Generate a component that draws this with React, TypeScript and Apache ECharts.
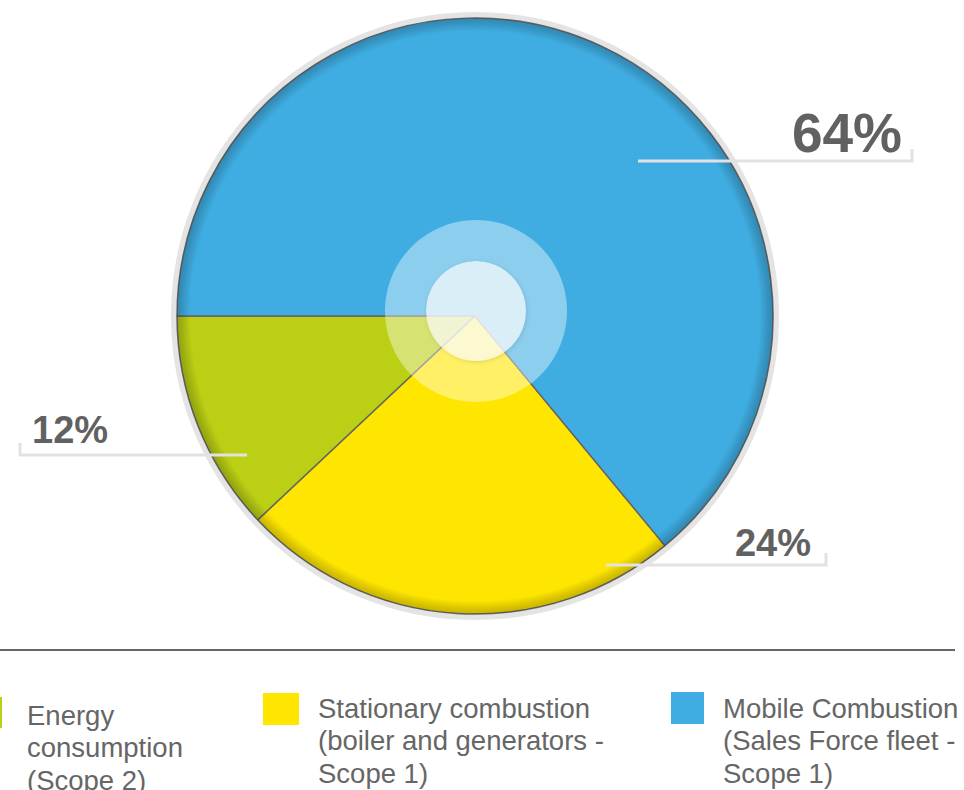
import React, { useEffect, useRef } from "react";
import * as echarts from "echarts";

// ---- data ----
const categories = [
  "Energy\nconsumption\n(Scope 2)",
  "Stationary combustion\n(boiler and generators -\nScope 1)",
  "Mobile Combustion\n(Sales Force fleet -\nScope 1)",
];
const shares = [12, 24, 64];
const colors = ["#BBCF14", "#FFE600", "#3FADE2"];

// ---- layout (positions only) ----
const CENTER: [number, number] = [475, 316];
const RADIUS = 298;
const FONT = "'Liberation Sans', Arial, Helvetica, sans-serif";

// label placement per slice: text anchor + guide line (start x, end x, y)
const LABEL_GUIDES = [
  { tx: 32, ty: 449, align: "left", fs: 38, x0: 247, x1: 20, y: 455 },
  { tx: 811, ty: 562, align: "right", fs: 38, x0: 606, x1: 826, y: 565 },
  { tx: 902, ty: 160, align: "right", fs: 55, x0: 638, x1: 912, y: 161 },
];

const LEGEND_POS = [
  { x: -32, y: 697, w: 34, h: 31, tx: 27, ty: 699 },
  { x: 263, y: 693, w: 36, h: 32, tx: 318, ty: 692 },
  { x: 671, y: 692, w: 33, h: 32, tx: 723, ty: 692 },
];

export default function App() {
  const ref = useRef<HTMLDivElement>(null);

  useEffect(() => {
    if (!ref.current) return;
    const chart = echarts.init(ref.current, undefined, { renderer: "svg" });

    const legendGraphics = categories.map((name, i) => {
      const p = LEGEND_POS[i];
      return {
        type: "group",
        silent: true,
        children: [
          {
            type: "rect",
            shape: { x: p.x, y: p.y, width: p.w, height: p.h },
            style: { fill: colors[i] },
          },
          {
            type: "text",
            x: p.tx,
            y: p.ty,
            style: {
              text: name,
              fill: "#666666",
              fontFamily: FONT,
              fontSize: 27.5,
              lineHeight: 32.5,
              verticalAlign: "top",
              align: "left",
            },
          },
        ],
      };
    });

    const sliceData = categories.map((name, i) => ({
      name,
      value: shares[i],
      itemStyle: { color: colors[i] },
    }));

    const plain = {
      silent: true,
      label: { show: false },
      labelLine: { show: false },
      emphasis: { disabled: true },
    };

    const option: any = {
      animation: false,
      backgroundColor: "#ffffff",
      graphic: [
        {
          type: "line",
          shape: { x1: 0, y1: 650, x2: 955, y2: 650 },
          style: { stroke: "#666666", lineWidth: 2 },
          silent: true,
        },
        ...legendGraphics,
      ],
      series: [
        {
          type: "pie",
          name: "ring",
          z: 1,
          ...plain,
          center: CENTER,
          radius: [RADIUS, RADIUS + 6],
          itemStyle: { color: "#E4E4E4" },
          data: [{ value: 1, name: "" }],
        },
        {
          type: "pie",
          name: "emissions",
          z: 2,
          ...plain,
          center: CENTER,
          radius: [0, RADIUS],
          startAngle: 180,
          clockwise: false,
          itemStyle: { borderColor: "#666666", borderWidth: 1.5 },
          data: sliceData,
        },
        {
          type: "pie",
          name: "shade",
          z: 3,
          ...plain,
          center: CENTER,
          radius: [0, RADIUS],
          itemStyle: {
            color: new echarts.graphic.RadialGradient(0.5, 0.5, 0.5, [
              { offset: 0, color: "rgba(0,0,0,0)" },
              { offset: 0.955, color: "rgba(0,0,0,0)" },
              { offset: 0.985, color: "rgba(0,0,0,0.16)" },
              { offset: 1, color: "rgba(0,0,0,0.22)" },
            ]),
          },
          data: [{ value: 1, name: "" }],
        },
        {
          type: "pie",
          name: "halo",
          z: 4,
          ...plain,
          center: [476, 311],
          radius: [50, 91],
          itemStyle: { color: "rgba(255,255,255,0.4)" },
          data: [{ value: 1, name: "" }],
        },
        {
          type: "pie",
          name: "core",
          z: 5,
          ...plain,
          center: [476, 311],
          radius: [0, 50],
          itemStyle: {
            color: "rgba(255,255,255,0.8)",
            shadowBlur: 4,
            shadowColor: "rgba(0,0,0,0.15)",
            shadowOffsetX: 1,
            shadowOffsetY: 1,
          },
          data: [{ value: 1, name: "" }],
        },
        {
          // transparent copy of the slices that carries the percentage labels on top
          type: "pie",
          name: "labels",
          z: 6,
          silent: true,
          emphasis: { disabled: true },
          center: CENTER,
          radius: [0, RADIUS],
          startAngle: 180,
          clockwise: false,
          avoidLabelOverlap: false,
          itemStyle: { color: "rgba(0,0,0,0)", borderWidth: 0 },
          label: {
            show: true,
            position: "outside",
            formatter: "{d}%",
            fontFamily: FONT,
            fontWeight: "bold",
            color: "#616161",
          },
          labelLine: {
            show: true,
            minTurnAngle: 0,
            maxSurfaceAngle: 180,
            lineStyle: { color: "#E2E2E2", width: 3 },
          },
          labelLayout: (p: any) => {
            const g = LABEL_GUIDES[p.dataIndex];
            return {
              x: g.tx,
              y: g.ty,
              align: g.align,
              verticalAlign: "bottom",
              fontSize: g.fs,
              labelLinePoints: [
                [g.x0, g.y],
                [g.x1, g.y],
                [g.x1, g.y - 12],
              ],
            };
          },
          data: categories.map((name, i) => ({
            name,
            value: shares[i],
            label: { fontSize: LABEL_GUIDES[i].fs, lineHeight: LABEL_GUIDES[i].fs },
          })),
        },
      ],
    };

    chart.setOption(option);
    return () => chart.dispose();
  }, []);

  return (
    <div
      ref={ref}
      style={{ position: "fixed", left: 0, top: 0, width: 964, height: 790 }}
    />
  );
}
